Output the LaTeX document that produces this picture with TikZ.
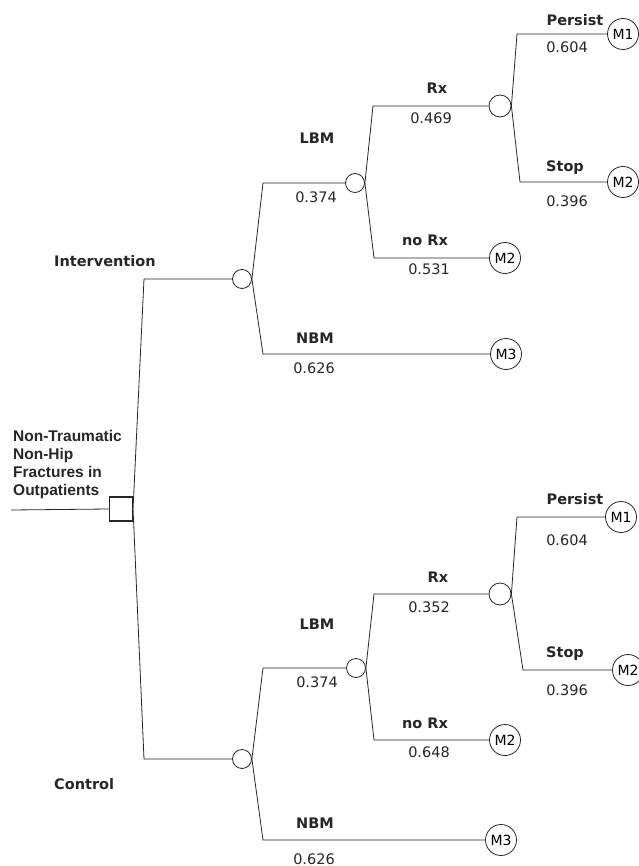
\documentclass[tikz,border=0pt]{standalone}
\usepackage{fontspec}
\setmainfont{DejaVu Sans}
\newfontfamily\titlefont{Liberation Sans}
\begin{document}
\begin{tikzpicture}[x=1pt,y=-1pt,
  ln/.style={draw=black!85, line width=0.8pt},
  chance/.style={circle, draw=black!85, line width=0.8pt, minimum size=19pt, inner sep=0pt, fill=white},
  bigchance/.style={chance, minimum size=22pt},
  term/.style={circle, draw=black!85, line width=0.8pt, minimum size=31pt, inner sep=0pt, font=\fontsize{14}{16}\selectfont},
  lbl/.style={font=\fontsize{14.5}{17}\selectfont\bfseries, inner sep=0pt, anchor=base, text=black!85},
  prob/.style={font=\fontsize{14.5}{17}\selectfont, inner sep=0pt, anchor=base, text=black!85},
  ttl/.style={font=\titlefont\fontsize{15.5}{18}\selectfont\bfseries, inner sep=0pt, anchor=base west, text=black!85},
  decision/.style={draw=black!85, line width=1.1pt, minimum width=23pt, minimum height=24pt, inner sep=0pt}
]
\useasboundingbox (0,0) rectangle (638,866);

% title
\node[ttl] (t1) at (13,441) {Non-Traumatic};
\node[ttl] (t2) at (13,459) {Non-Hip};
\node[ttl] (t3) at (13,477) {Fractures in};
\node[ttl] (t4) at (13,495) {Outpatients};

% decision
\node[decision] (D) at (121,509) {};
\coordinate (E) at (11,510);
\draw[ln] (E) -- (D.west);

% chance nodes
\node[chance] (C1) at (242,279) {};
\node[chance] (C2) at (242,759) {};
\node[chance] (L1) at (355,183) {};
\node[chance] (L2) at (356,668) {};
\node[bigchance] (R1) at (500,106) {};
\node[bigchance] (R2) at (500,594) {};

% terminal nodes
\node[term] (T1) at (623,34) {M1};
\node[term] (T2) at (623,182) {M2};
\node[term] (T3) at (505,258) {M2};
\node[term] (T4) at (506,354) {M3};
\node[term] (T5) at (621,517) {M1};
\node[term] (T6) at (628,670) {M2};
\node[term] (T7) at (505,740) {M2};
\node[term] (T8) at (501,840) {M3};

% corners
\coordinate (k1) at (144,279);
\coordinate (k2) at (144,759);
\coordinate (a1) at (263,183);
\coordinate (a2) at (263,354);
\coordinate (b1) at (373,106);
\coordinate (b2) at (374,258);
\coordinate (c1) at (517,34);
\coordinate (c2) at (520,182);
\coordinate (d1) at (263,668);
\coordinate (d2) at (263,840);
\coordinate (e1) at (374,594);
\coordinate (e2) at (374,740);
\coordinate (f1) at (517,517);
\coordinate (f2) at (523,670);

% connectors
\draw[ln] (D.east) -- (k1) -- (C1.west);
\draw[ln] (D.east) -- (k2) -- (C2.west);
\draw[ln] (C1.east) -- (a1) -- (L1.west);
\draw[ln] (C1.east) -- (a2) -- (T4.west);
\draw[ln] (L1.east) -- (b1) -- (R1.west);
\draw[ln] (L1.east) -- (b2) -- (T3.west);
\draw[ln] (R1.east) -- (c1) -- (T1.west);
\draw[ln] (R1.east) -- (c2) -- (T2.west);
\draw[ln] (C2.east) -- (d1) -- (L2.west);
\draw[ln] (C2.east) -- (d2) -- (T8.west);
\draw[ln] (L2.east) -- (e1) -- (R2.west);
\draw[ln] (L2.east) -- (e2) -- (T7.west);
\draw[ln] (R2.east) -- (f1) -- (T5.west);
\draw[ln] (R2.east) -- (f2) -- (T6.west);

% labels top
\node[lbl, anchor=base west] (lint) at (54,267) {Intervention};
\node[lbl] (llbm1) at (317,144) {LBM};
\node[prob] (p1) at (316,203) {0.374};
\node[lbl] (lnbm1) at (315,343) {NBM};
\node[prob] (p2) at (314,373) {0.626};
\node[lbl] (lrx1) at (437,94) {Rx};
\node[prob] (p3) at (431,124) {0.469};
\node[lbl] (lnorx1) at (425,246) {no Rx};
\node[prob] (p4) at (429,275) {0.531};
\node[lbl] (lper1) at (575,26) {Persist};
\node[prob] (p5) at (567,53) {0.604};
\node[lbl] (lstop1) at (565,172) {Stop};
\node[prob] (p6) at (567,207) {0.396};

% labels bottom
\node[lbl, anchor=base west] (lctl) at (54,789) {Control};
\node[lbl] (llbm2) at (317,629) {LBM};
\node[prob] (p7) at (317,687) {0.374};
\node[lbl] (lnbm2) at (315,828) {NBM};
\node[prob] (p8) at (314,864) {0.626};
\node[lbl] (lrx2) at (438,582) {Rx};
\node[prob] (p9) at (429,612) {0.352};
\node[lbl] (lnorx2) at (425,728) {no Rx};
\node[prob] (p10) at (429,757) {0.648};
\node[lbl] (lper2) at (575,504) {Persist};
\node[prob] (p11) at (567,545) {0.604};
\node[lbl] (lstop2) at (565,657) {Stop};
\node[prob] (p12) at (567,695) {0.396};
\end{tikzpicture}
\end{document}
